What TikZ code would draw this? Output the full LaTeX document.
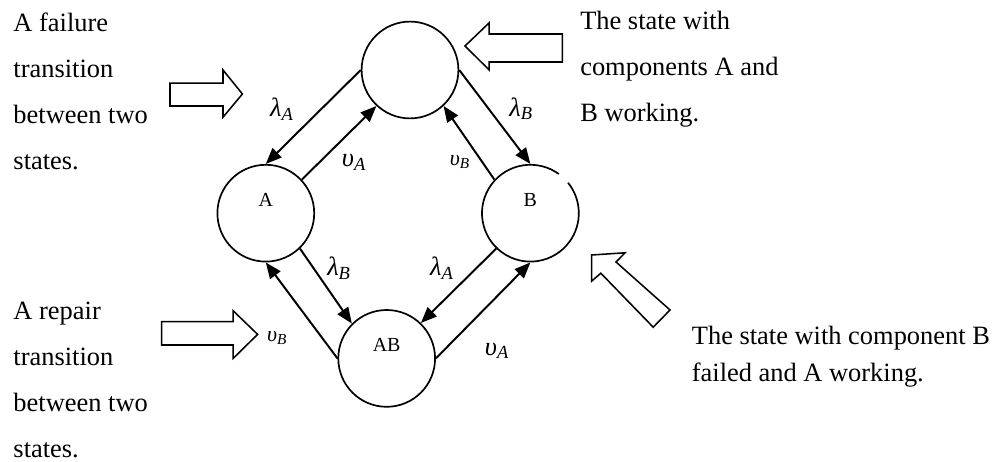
\documentclass[tikz,border=0pt]{standalone}
\usepackage{fontspec}
\setmainfont{Liberation Serif}
\usetikzlibrary{arrows.meta}

\newcommand{\trate}[2]{\textit{#1}\textsubscript{\textit{#2}}}

\begin{document}
\begin{tikzpicture}[font=\fontsize{18.8}{22}\selectfont,
  >={Triangle[length=4mm,width=3.2mm]},
  state/.style={circle,draw,line width=1.2pt,minimum size=2.42cm,inner sep=0pt},
  statename/.style={font=\fontsize{14.2}{16}\selectfont,inner sep=0pt},
  trans/.style={->,line width=1.4pt},
  rate/.style={inner sep=0pt},
  smallrate/.style={inner sep=0pt,font=\fontsize{15.5}{18}\selectfont},
  note/.style={inner sep=0pt,anchor=base west},
  blockarrow/.style={draw,line width=1.1pt,fill=white,line join=miter}]

\useasboundingbox (0,0) rectangle (24.825,11.55);

% =========================================================
% States
% =========================================================
\node[state] (top) at (10.25,9.8) {};
\node[state] (A) at (6.645,6.22) {};
\node[state,draw=none] (B) at (13.26,6.22) {};
\node[state] (AB) at (9.667,2.59) {};

% B is drawn with a small break in its outline
\draw[line width=1.2pt] (B.center) ++(54:1.21) arc[start angle=54,end angle=399,radius=1.21];

\node[statename] (Aname) at ([yshift=3.3mm]A.center) {A};
\node[statename] (Bname) at ([yshift=3.3mm]B.center) {B};
\node[statename] (ABname) at ([yshift=3.3mm]AB.center) {AB};

% =========================================================
% Transitions
% =========================================================
\draw[trans] (top.180) -- (A.90);
\draw[trans] (A.43) -- (top.227);
\draw[trans] (top.0) -- (B.90);
\draw[trans] (B.137) -- (top.313);
\draw[trans] (A.314) -- (AB.135);
\draw[trans] (AB.180) -- (A.270);
\draw[trans] (B.226) -- (AB.46);
\draw[trans] (AB.0) -- (B.270);

% rates
\node[rate] (lamA1) at (7.05,8.83) {\trate{λ}{A}};
\node[rate] (upsA1) at (8.85,7.5) {\trate{υ}{A}};
\node[smallrate] (upsB1) at (11.5,7.5) {\trate{υ}{B}};
\node[rate] (lamB1) at (13.03,8.83) {\trate{λ}{B}};
\node[rate] (lamB2) at (8.475,4.85) {\trate{λ}{B}};
\node[rate] (lamA2) at (11.05,4.85) {\trate{λ}{A}};
\node[smallrate] (upsB2) at (6.93,3.1) {\trate{υ}{B}};
\node[rate] (upsA2) at (12.425,2.78) {\trate{υ}{A}};

% =========================================================
% Notes and block arrows
% =========================================================
\foreach \txt [count=\i] in {A failure,transition,between two,states.}
  \node[note] (fail\i) at (0.33,{10.75-1.15*(\i-1)}) {\txt};

\foreach \txt [count=\i] in {The state with,components A and,B working.}
  \node[note] (both\i) at (14.5,{10.8-1.14*(\i-1)}) {\txt};

\foreach \txt [count=\i] in {A repair,transition,between two,states.}
  \node[note] (rep\i) at (0.33,{3.55-1.15*(\i-1)}) {\txt};

\foreach \txt [count=\i] in {The state with component B,failed and A working.}
  \node[note] (onlyA\i) at (17.29,{2.925-0.925*(\i-1)}) {\txt};

% failure arrow
\draw[blockarrow] (4.25,9.47) -- (5.575,9.47) -- (5.575,9.8) -- (6.06,9.2)
  -- (5.575,8.62) -- (5.575,8.9) -- (4.25,8.9) -- cycle;

% working state arrow
\draw[blockarrow] (11.625,10.4) -- (12.23,10.98) -- (12.23,10.7) -- (14.06,10.7)
  -- (14.06,10.0) -- (12.23,10.0) -- (12.23,9.8) -- cycle;

% repair arrow
\draw[blockarrow] (4.04,3.51) -- (5.83,3.51) -- (5.83,3.78) -- (6.44,3.19)
  -- (5.83,2.59) -- (5.83,2.925) -- (4.04,2.925) -- cycle;

% B state arrow
\draw[blockarrow] (14.79,5.175) -- (15.625,5.23) -- (15.4,5.0) -- (16.75,3.8)
  -- (16.33,3.37) -- (15.02,4.72) -- (14.79,4.52) -- cycle;

\end{tikzpicture}
\end{document}
